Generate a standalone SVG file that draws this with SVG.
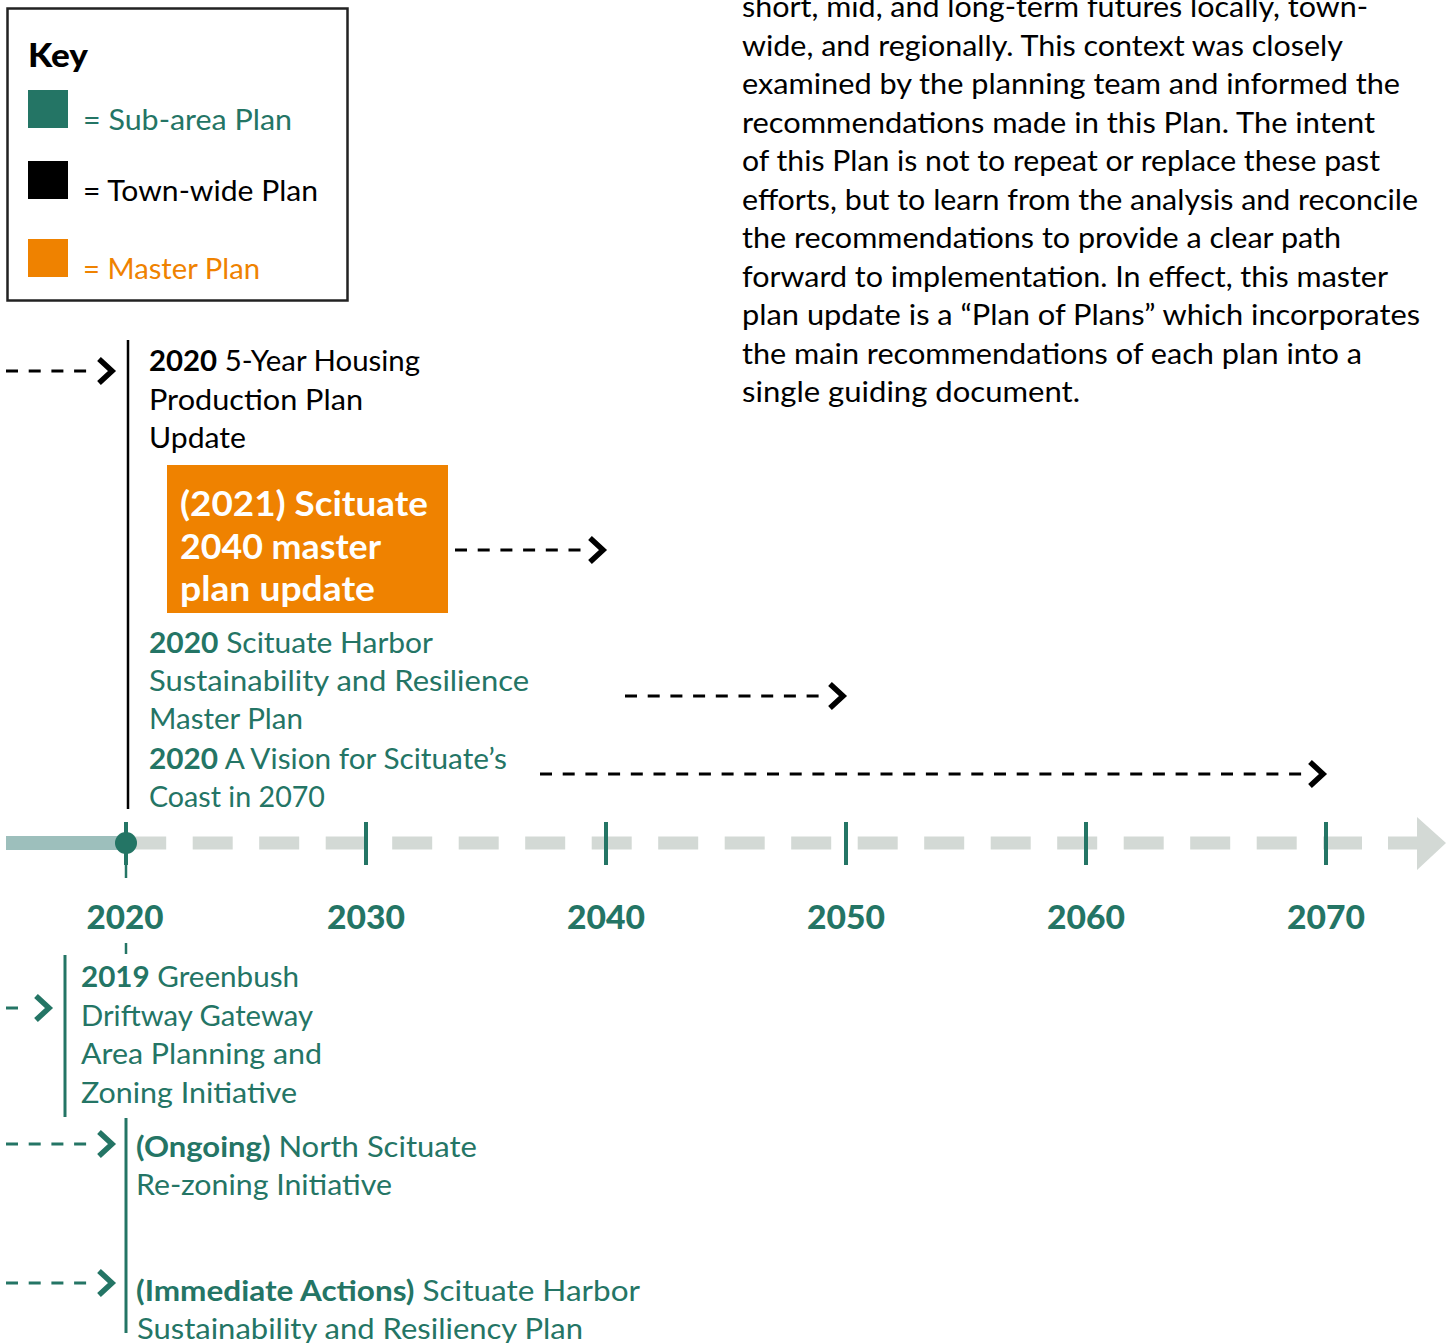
<svg xmlns="http://www.w3.org/2000/svg" width="1452" height="1343" viewBox="0 0 1452 1343">
<style>
text{font-family:Lato,"Open Sans","Noto Sans",sans-serif;}
.bd{font-size:28px;fill:#000}
.tl{fill:#247565}
.b{font-weight:700}
.yr{font-size:33px;font-weight:900;fill:#247565;text-anchor:middle}
.da{fill:none;stroke-width:3;stroke-dasharray:12 10.7}
.ch{fill:none;stroke-width:5.5;stroke-linejoin:miter}
.k{stroke:#000}
.g{stroke:#247565}
.tick{stroke:#247565;stroke-width:4}
</style>
<rect width="1452" height="1343" fill="#fff"/>

<g id="intro-text" class="bd">
<text x="742" y="17" textLength="626" lengthAdjust="spacingAndGlyphs">short, mid, and long-term futures locally, town-</text>
<text x="742" y="55.5" textLength="601" lengthAdjust="spacingAndGlyphs">wide, and regionally. This context was closely</text>
<text x="742" y="94" textLength="658" lengthAdjust="spacingAndGlyphs">examined by the planning team and informed the</text>
<text x="742" y="132.5" textLength="633" lengthAdjust="spacingAndGlyphs">recommendations made in this Plan. The intent</text>
<text x="742" y="171" textLength="638" lengthAdjust="spacingAndGlyphs">of this Plan is not to repeat or replace these past</text>
<text x="742" y="209.5" textLength="676" lengthAdjust="spacingAndGlyphs">efforts, but to learn from the analysis and reconcile</text>
<text x="742" y="248" textLength="599" lengthAdjust="spacingAndGlyphs">the recommendations to provide a clear path</text>
<text x="742" y="286.5" textLength="646" lengthAdjust="spacingAndGlyphs">forward to implementation. In effect, this master</text>
<text x="742" y="325" textLength="678" lengthAdjust="spacingAndGlyphs">plan update is a “Plan of Plans” which incorporates</text>
<text x="742" y="363.5" textLength="620" lengthAdjust="spacingAndGlyphs">the main recommendations of each plan into a</text>
<text x="742" y="402" textLength="338" lengthAdjust="spacingAndGlyphs">single guiding document.</text>
</g>

<g id="key">
<rect x="7.5" y="8.5" width="340" height="292" fill="#fff" stroke="#222" stroke-width="2.5"/>
<text x="28" y="67" font-size="32" font-weight="900" fill="#000" textLength="60" lengthAdjust="spacingAndGlyphs">Key</text>
<rect x="28" y="90" width="40" height="38" fill="#247565"/>
<text x="83" y="130" class="bd tl" textLength="209" lengthAdjust="spacingAndGlyphs">= Sub-area Plan</text>
<rect x="28" y="161" width="40" height="38" fill="#000"/>
<text x="83" y="201" class="bd" textLength="235" lengthAdjust="spacingAndGlyphs">= Town-wide Plan</text>
<rect x="28" y="239" width="40" height="38" fill="#EF8200"/>
<text x="83" y="279" class="bd" style="fill:#EF8200" textLength="177" lengthAdjust="spacingAndGlyphs">= Master Plan</text>
</g>

<g id="timeline">
<rect x="6" y="836" width="120" height="14" fill="#9DBFBC"/>
<line x1="126.2" y1="843" x2="1362" y2="843" stroke="#D3D9D5" stroke-width="13" stroke-dasharray="40 26.5"/>
<polygon points="1388,836.5 1417,836.5 1417,817 1446,843 1417,870 1417,849.5 1388,849.5" fill="#D3D9D5"/>
<line class="tick" x1="366" y1="822" x2="366" y2="865"/>
<line class="tick" x1="606" y1="822" x2="606" y2="865"/>
<line class="tick" x1="846" y1="822" x2="846" y2="865"/>
<line class="tick" x1="1086" y1="822" x2="1086" y2="865"/>
<line class="tick" x1="1326" y1="822" x2="1326" y2="865"/>
<line class="tick" x1="126" y1="822" x2="126" y2="865"/>
<line x1="126" y1="864" x2="126" y2="878" stroke="#247565" stroke-width="2.5"/>
<circle cx="126" cy="843" r="11" fill="#247565"/>
<line x1="126" y1="943" x2="126" y2="954" stroke="#247565" stroke-width="2.5"/>
<text class="yr" x="125" y="929" textLength="77" lengthAdjust="spacingAndGlyphs">2020</text>
<text class="yr" x="366" y="929" textLength="78" lengthAdjust="spacingAndGlyphs">2030</text>
<text class="yr" x="606" y="929" textLength="78" lengthAdjust="spacingAndGlyphs">2040</text>
<text class="yr" x="846" y="929" textLength="78" lengthAdjust="spacingAndGlyphs">2050</text>
<text class="yr" x="1086" y="929" textLength="78" lengthAdjust="spacingAndGlyphs">2060</text>
<text class="yr" x="1326" y="929" textLength="78" lengthAdjust="spacingAndGlyphs">2070</text>
</g>

<g id="townwide-bracket">
<line x1="128" y1="340" x2="128" y2="809" stroke="#000" stroke-width="2.5"/>
</g>

<g id="node-housing" class="bd">
<text x="149" y="371" textLength="271" lengthAdjust="spacingAndGlyphs"><tspan class="b">2020</tspan> 5-Year Housing</text>
<text x="149" y="410" textLength="214" lengthAdjust="spacingAndGlyphs">Production Plan</text>
<text x="149" y="448" textLength="97" lengthAdjust="spacingAndGlyphs">Update</text>
</g>

<g id="node-masterplan">
<rect x="167" y="465" width="281" height="148" fill="#EF8200"/>
<text x="180" y="516" font-size="34" font-weight="700" fill="#fff" textLength="248" lengthAdjust="spacingAndGlyphs">(2021) Scituate</text>
<text x="180" y="559" font-size="34" font-weight="700" fill="#fff" textLength="201" lengthAdjust="spacingAndGlyphs">2040 master</text>
<text x="180" y="601" font-size="34" font-weight="700" fill="#fff" textLength="195" lengthAdjust="spacingAndGlyphs">plan update</text>
</g>

<g id="node-harbor-resilience" class="bd tl">
<text x="149" y="653" textLength="284" lengthAdjust="spacingAndGlyphs"><tspan class="b">2020</tspan> Scituate Harbor</text>
<text x="149" y="691" textLength="380" lengthAdjust="spacingAndGlyphs">Sustainability and Resilience</text>
<text x="149" y="729" textLength="154" lengthAdjust="spacingAndGlyphs">Master Plan</text>
</g>

<g id="node-vision" class="bd tl">
<text x="149" y="769" textLength="358" lengthAdjust="spacingAndGlyphs"><tspan class="b">2020</tspan> A Vision for Scituate’s</text>
<text x="149" y="807" textLength="176" lengthAdjust="spacingAndGlyphs">Coast in 2070</text>
</g>

<g id="node-greenbush">
<line x1="65" y1="955" x2="65" y2="1117" stroke="#247565" stroke-width="3"/>
<g class="bd tl">
<text x="81" y="987" textLength="218" lengthAdjust="spacingAndGlyphs"><tspan class="b">2019</tspan> Greenbush</text>
<text x="81" y="1026" textLength="232" lengthAdjust="spacingAndGlyphs">Driftway Gateway</text>
<text x="81" y="1064" textLength="241" lengthAdjust="spacingAndGlyphs">Area Planning and</text>
<text x="81" y="1103" textLength="216" lengthAdjust="spacingAndGlyphs">Zoning Initiative</text>
</g>
</g>

<g id="node-north-scituate">
<line x1="126" y1="1118" x2="126" y2="1333" stroke="#247565" stroke-width="3"/>
<g class="bd tl">
<text x="136" y="1157" textLength="341" lengthAdjust="spacingAndGlyphs"><tspan class="b">(Ongoing)</tspan> North Scituate</text>
<text x="136" y="1195" textLength="256" lengthAdjust="spacingAndGlyphs">Re-zoning Initiative</text>
</g>
</g>

<g id="node-immediate" class="bd tl">
<text x="136" y="1301" textLength="504" lengthAdjust="spacingAndGlyphs"><tspan class="b">(Immediate Actions)</tspan> Scituate Harbor</text>
<text x="137" y="1339" textLength="446" lengthAdjust="spacingAndGlyphs">Sustainability and Resiliency Plan</text>
</g>

<g id="connectors">
<line class="da k" x1="6" y1="371" x2="95" y2="371"/>
<polyline class="ch k" points="99,359 112,371 99,383"/>
<line class="da k" x1="455" y1="550" x2="586" y2="550"/>
<polyline class="ch k" points="590,538 603,550 590,562"/>
<line class="da k" x1="625" y1="696" x2="826" y2="696"/>
<polyline class="ch k" points="830,684 843,696 830,708"/>
<line class="da k" x1="540" y1="774" x2="1306" y2="774"/>
<polyline class="ch k" points="1310,762 1323,774 1310,786"/>
<line class="da g" x1="6" y1="1008" x2="18" y2="1008"/>
<polyline class="ch g" points="36,996 49,1008 36,1020"/>
<line class="da g" x1="6" y1="1144" x2="92" y2="1144"/>
<polyline class="ch g" points="99,1132 112,1144 99,1156"/>
<line class="da g" x1="6" y1="1283" x2="92" y2="1283"/>
<polyline class="ch g" points="99,1271 112,1283 99,1295"/>
</g>
</svg>
